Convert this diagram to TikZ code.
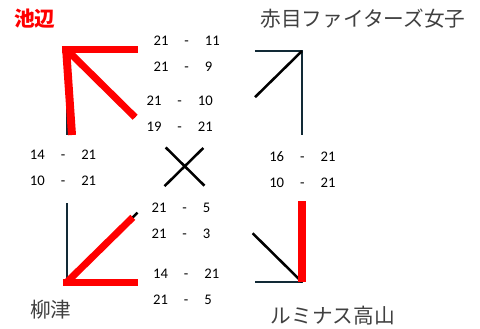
\documentclass[tikz,border=0pt]{standalone}
\usepackage{fontspec}
\setmainfont{Carlito}
\newfontfamily\jp{Noto Sans CJK JP}
\usetikzlibrary{calc}
\definecolor{dkline}{RGB}{18,42,54}
\definecolor{txtgray}{RGB}{64,64,64}
\newcommand{\scrow}[2]{\makebox[19.5pt][c]{#1}\makebox[19pt][c]{-}\hspace{4.2pt}\makebox[19.5pt][l]{#2}}
\begin{document}
\begin{tikzpicture}[x=0.75pt,y=-0.75pt,
  dk/.style={draw=dkline, line width=1.7pt},
  bk/.style={draw=black, line width=1.9pt},
  rd/.style={draw=red, line width=5.25pt},
  score/.style={font=\fontsize{11}{19.5}\selectfont, align=center, inner sep=0pt, text=black},
  team/.style={font=\jp\fontsize{15.5}{18}\selectfont, text=txtgray, inner sep=0pt}]
\useasboundingbox (0,0) rectangle (480,329);
% corners
\coordinate (TL) at (67,50);
\coordinate (TR) at (302,51);
\coordinate (BL) at (67,282);
\coordinate (BR) at (302,282);
% visible ends of edges
\coordinate (topL) at (138,50);
\coordinate (topR) at (255,51);
\coordinate (leftT) at (67,135);
\coordinate (leftB) at (67,203);
\coordinate (rightT) at (302,135);
\coordinate (rightB) at (302,201);
\coordinate (botL) at (138,282);
\coordinate (botR) at (255,282);
% dark edges
\draw[dk] (TL) -- (topL);
\draw[dk] (TL) -- (leftT);
\draw[dk] (leftB) -- (BL) -- (botL);
\draw[dk] (topR) -- (TR) -- (rightT);
\draw[dk] (rightB) -- (BR) -- (botR);
% black diagonals
\draw[bk] (TL) -- ($(TL)!0.29!(BR)$);
\draw[bk] ($(TL)!0.42!(BR)$) -- ($(TL)!0.585!(BR)$);
\draw[bk] ($(TL)!0.79!(BR)$) -- (BR);
\draw[bk] (TR) -- ($(TR)!0.2!(BL)$);
\draw[bk] ($(TR)!0.42!(BL)$) -- ($(TR)!0.585!(BL)$);
\draw[bk] ($(TR)!0.70!(BL)$) -- (BL);
% red results
\coordinate (rTopA) at (62,49.5);
\coordinate (rTopB) at (138,49.5);
\coordinate (rLeftA) at (66,47);
\coordinate (rLeftB) at (72,135);
\draw[rd] (rTopA) -- (rTopB);
\draw[rd, line width=6pt] (rLeftA) -- (rLeftB);
\draw[rd] (TL) -- ($(TL)!0.29!(BR)$);
\coordinate (rBotA) at (63,282);
\draw[rd] (rBotA) -- (botL);
\draw[rd] (BL) -- ($(TR)!0.72!(BL)$);
\draw[rd, line width=6pt] (rightB) -- (BR);
% scores
\node[score] (sA) at (189.5,53.4) {\scrow{21}{11}\\\scrow{21}{9}};
\node[score] (sB) at (182.5,113.3) {\scrow{21}{10}\\\scrow{19}{21}};
\node[score] (sC) at (65.8,168) {\scrow{14}{21}\\\scrow{10}{21}};
\node[score] (sD) at (305.2,169.5) {\scrow{16}{21}\\\scrow{10}{21}};
\node[score] (sE) at (187.5,220.5) {\scrow{21}{5}\\\scrow{21}{3}};
\node[score] (sF) at (189,286.5) {\scrow{14}{21}\\\scrow{21}{5}};
% teams
\node[team, text=red, font=\jp\bfseries\fontsize{15.5}{18}\selectfont] (ikebe) at (35,19) {池辺};
\node[team] (akame) at (363,19) {赤目ファイターズ女子};
\node[team] (yanaizu) at (51,310) {柳津};
\node[team] (lumi) at (333,316) {ルミナス高山};
\end{tikzpicture}
\end{document}
